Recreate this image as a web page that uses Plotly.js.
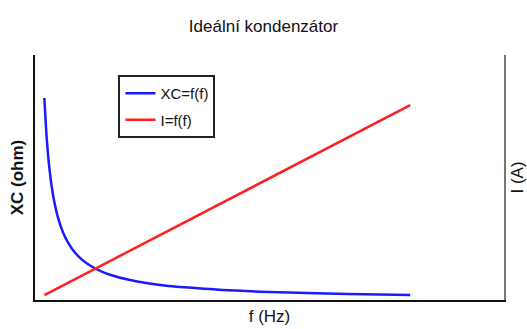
<!DOCTYPE html>
<html>
<head>
<meta charset="utf-8">
<script src="https://cdn.plot.ly/plotly-3.0.1.min.js"></script>
<style>html,body{margin:0;padding:0;background:#fff;}</style>
</head>
<body>
<div id="chart" style="width:527px;height:329px;"></div>
<script>
// frequency (Hz, arbitrary units)
const freq = [1, 1.25, 1.5, 1.75, 2, 2.5, 3, 3.5, 4, 5, 6, 7, 8, 10, 12, 14, 16, 18, 20, 23, 26, 30, 35, 40];
// capacitive reactance XC (ohm)
const xc = [1000, 800, 667, 571, 500, 400, 333, 286, 250, 200, 167, 143, 125, 100, 83, 71, 63, 56, 50, 43, 38, 33, 29, 25];
// current I (A)
const current = [0.1, 0.125, 0.15, 0.175, 0.2, 0.25, 0.3, 0.35, 0.4, 0.5, 0.6, 0.7, 0.8, 1.0, 1.2, 1.4, 1.6, 1.8, 2.0, 2.3, 2.6, 3.0, 3.5, 4.0];

const font = "'Liberation Sans', Arial, sans-serif";

const traces = [
  {x: freq, y: xc, name: "XC=f(f)", type: "scatter", mode: "lines",
   line: {color: "#1a1aff", width: 2.5, shape: "spline"}, legendgroup: "a"},
  {x: freq, y: current, name: "I=f(f)", type: "scatter", mode: "lines", yaxis: "y2",
   line: {color: "#ff2020", width: 2.5}, legendgroup: "b"}
];

const layout = {
  width: 527, height: 329,
  margin: {l: 35, r: 23, t: 55, b: 29},
  paper_bgcolor: "#fff", plot_bgcolor: "#fff",
  font: {family: font, size: 17, color: "#111"},
  title: {text: "Ideální kondenzátor", x: 0.5, xanchor: "center", y: 0.922, yanchor: "middle",
          font: {family: font, size: 17, color: "#111"}},
  xaxis: {range: [0, 50], showline: true, linecolor: "#111", linewidth: 2, showgrid: false,
          zeroline: false, showticklabels: false, ticks: "",
          title: {text: "f (Hz)", standoff: 9, font: {family: font, size: 17}}},
  yaxis: {range: [0, 1213], showline: true, linecolor: "#111", linewidth: 2, showgrid: false,
          zeroline: false, showticklabels: false, ticks: "",
          title: {text: "<b>XC (ohm)</b>", standoff: 5, font: {family: font, size: 17}}},
  yaxis2: {range: [0, 5.03], overlaying: "y", side: "right", showline: true, linecolor: "#777",
           linewidth: 2, showgrid: false, zeroline: false, showticklabels: false, ticks: "",
           title: {text: "I (A)", standoff: 7, font: {family: font, size: 17}}},
  showlegend: true,
  legend: {x: 0.178, y: 0.918, xanchor: "left", yanchor: "top", bgcolor: "#fff",
           bordercolor: "#222", borderwidth: 2, font: {family: font, size: 15, color: "#111"},
           traceorder: "grouped", tracegroupgap: 4}
};

Plotly.newPlot("chart", traces, layout, {displayModeBar: false, staticPlot: true});
</script>
</body>
</html>
